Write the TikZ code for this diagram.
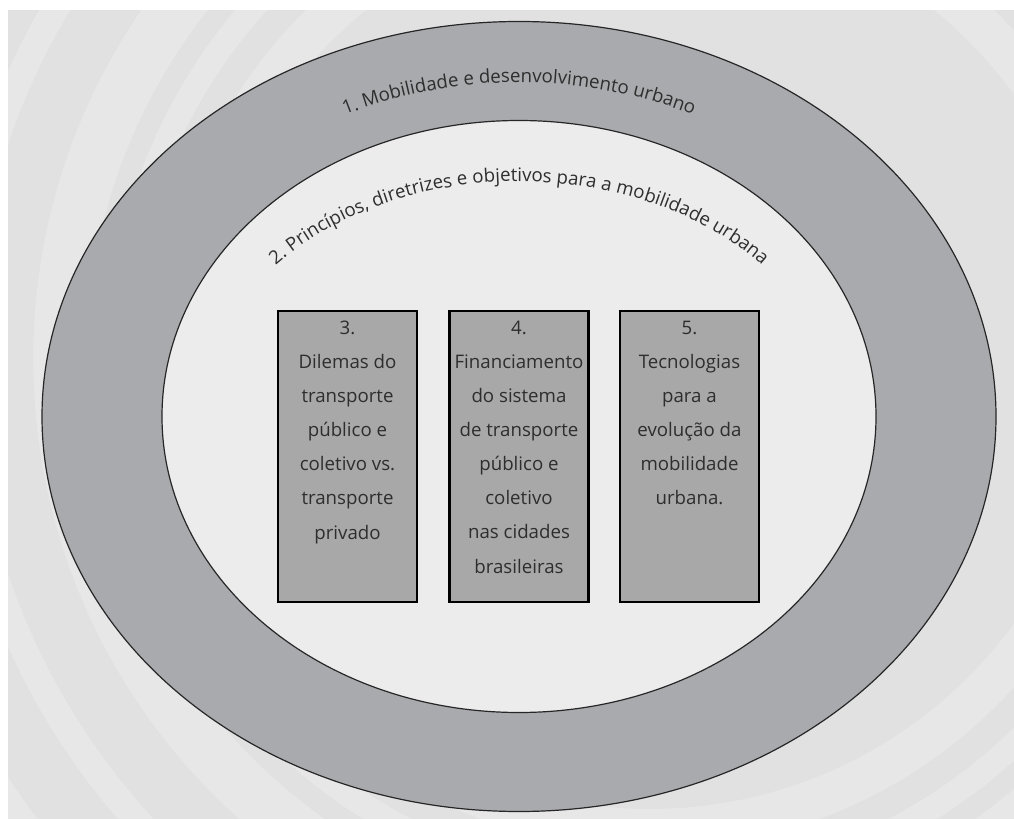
\documentclass[tikz,border=0pt]{standalone}
\usepackage{fontspec}
\setmainfont{Open Sans}
\usetikzlibrary{decorations.text}
\definecolor{bgc}{HTML}{E1E1E1}
\definecolor{ringc}{HTML}{A9AAAD}
\definecolor{innerc}{HTML}{ECECEC}
\definecolor{boxc}{HTML}{A8A8A8}
\definecolor{txtc}{HTML}{2E2E2E}
\begin{document}
\begin{tikzpicture}[x=0.75pt,y=0.75pt,
  boxst/.style={draw=black, line width=1.8pt, fill=boxc, minimum width=104.25pt, minimum height=218.25pt, inner sep=0pt},
  boxtext/.style={anchor=north, inner sep=0pt, align=center, text=txtc, font=\fontsize{14}{25.6}\selectfont},
  ringline/.style={draw=black!85, line width=0.9pt},
  stripe/.style={draw=white, opacity=0.22}]
\useasboundingbox (0,0) rectangle (1014,819);
\fill[white] (0,0) rectangle (1014,819);
\fill[bgc] (8,0) rectangle (1014,809);
\begin{scope}
  \clip (8,0) rectangle (1014,809);
  \draw[stripe, line width=40pt] (650,460) circle[radius=590];
  \draw[stripe, line width=20pt] (650,460) circle[radius=690];
  \draw[stripe, line width=30pt] (650,460) circle[radius=470];
  \draw[stripe, line width=18pt] (650,460) circle[radius=530];
  \draw[stripe, line width=36pt] (650,460) circle[radius=790];
\end{scope}
% rings
\fill[ringc] (519,402.5) ellipse[x radius=477, y radius=395];
\draw[ringline] (519,402.5) ellipse[x radius=477, y radius=395];
\fill[innerc] (519,402.5) ellipse[x radius=357, y radius=296];
\draw[ringline] (519,402.5) ellipse[x radius=357, y radius=296];
% curved labels
\path[decorate, decoration={text along path, text align=center, text color=txtc,
  text={|\fontsize{14}{16}\selectfont|1. Mobilidade e desenvolvimento urbano}}]
  (519,402.5) ++(170:405 and 334) arc[start angle=170, end angle=10, x radius=405, y radius=334];
\path[decorate, decoration={text along path, text align=center, text color=txtc,
  text={|\fontsize{14}{16}\selectfont|2. Princípios, diretrizes e objetivos para a mobilidade urbana}}]
  (519,402.5) ++(175:318 and 235) arc[start angle=175, end angle=5, x radius=318, y radius=235];
% boxes
\node[boxst] (b3) at (347.5,362.5) {};
\node[boxst] (b4) at (519,362.5) {};
\node[boxst] (b5) at (689.5,362.5) {};
\node[boxtext] (t3) at ([yshift=-8pt]b3.north) {3.\\Dilemas do\\transporte\\público e\\coletivo vs.\\transporte\\privado};
\node[boxtext] (t4) at ([yshift=-8pt]b4.north) {4.\\Financiamento\\do sistema\\de transporte\\público e\\coletivo\\nas cidades\\brasileiras};
\node[boxtext] (t5) at ([yshift=-8pt]b5.north) {5.\\Tecnologias\\para a\\evolução da\\mobilidade\\urbana.};
\end{tikzpicture}
\end{document}
